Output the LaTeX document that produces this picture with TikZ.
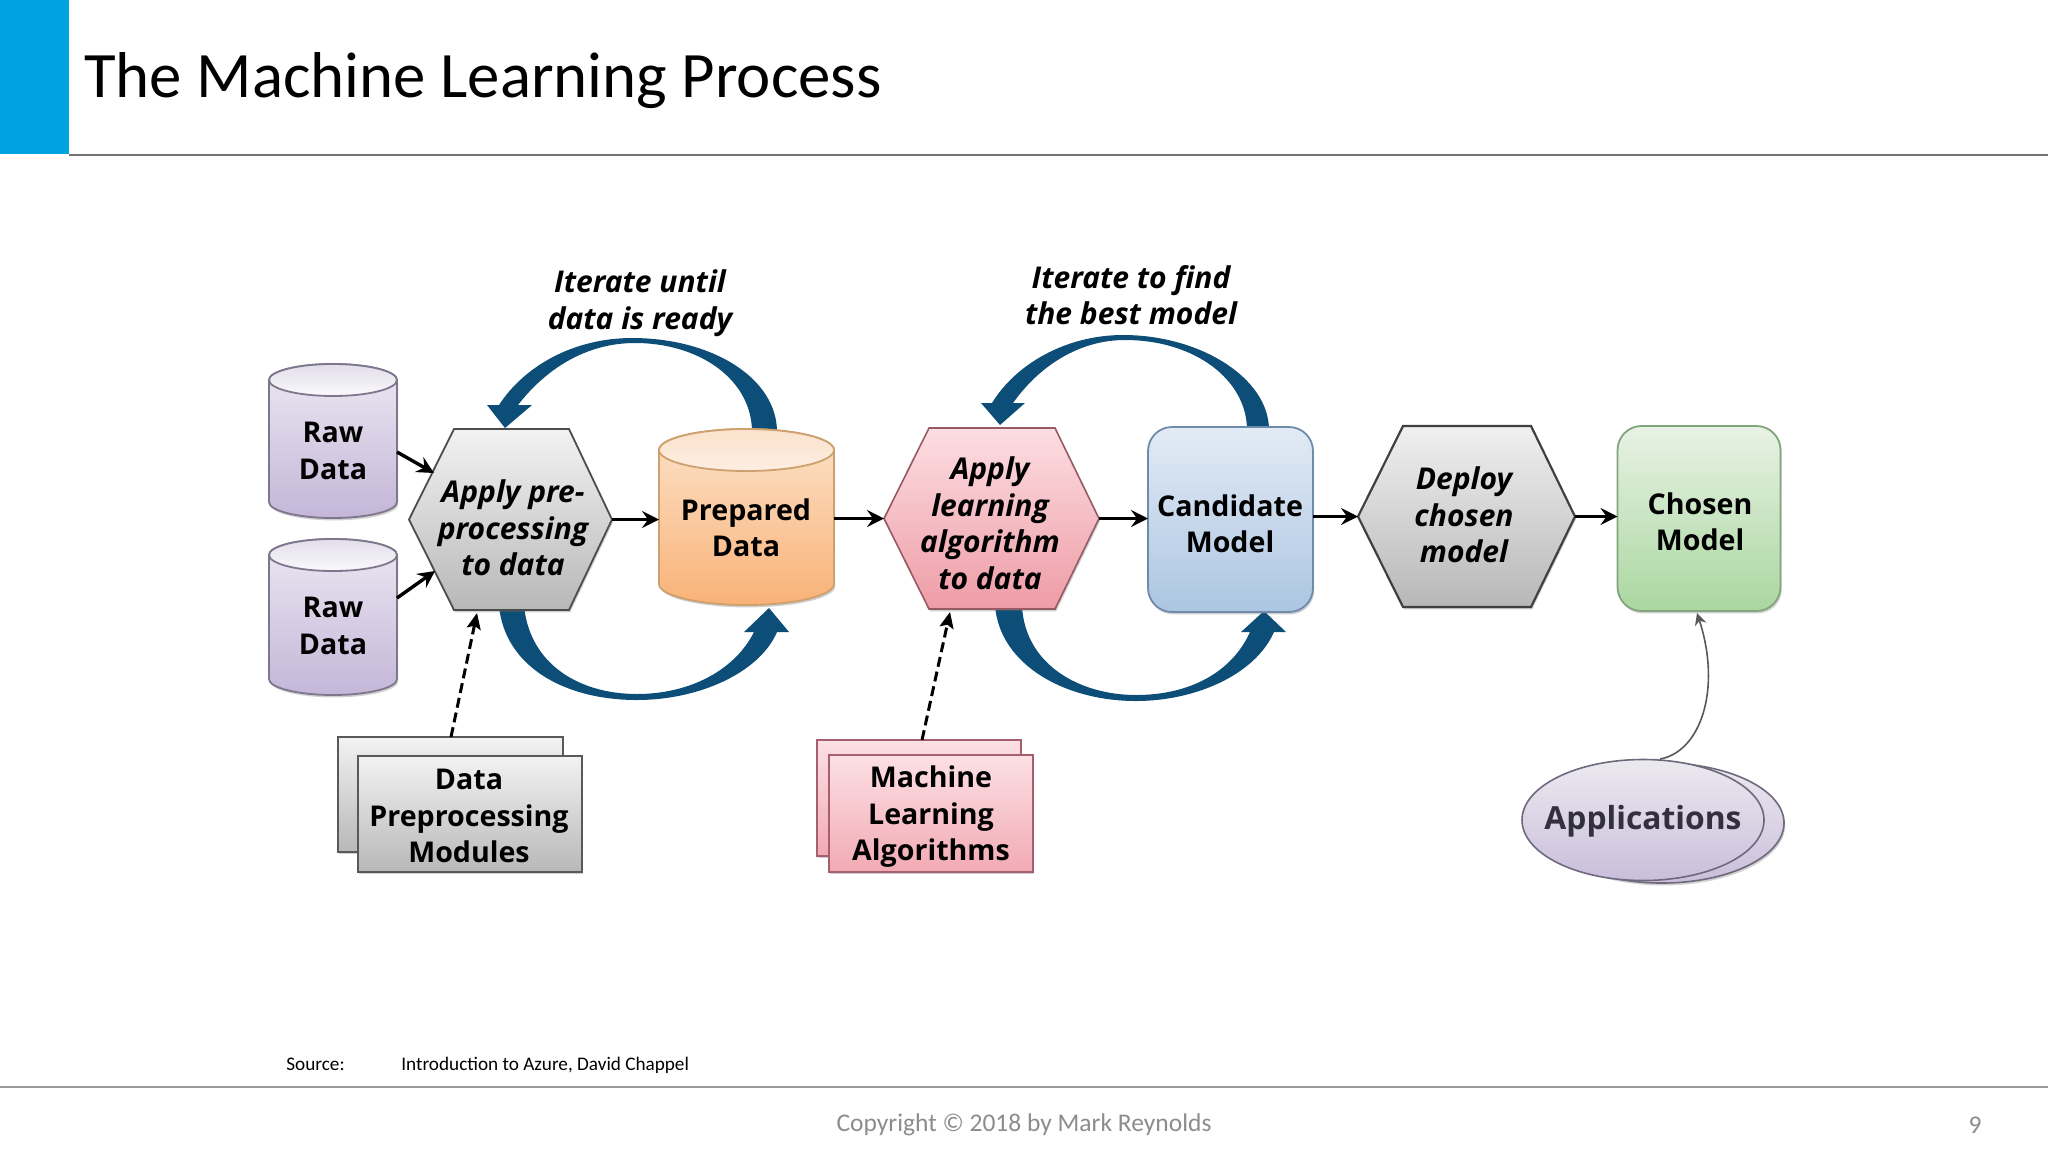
\documentclass[tikz,border=0pt]{standalone}
\usepackage{fontspec}
\setmainfont{Carlito}
\newfontfamily\diagfont{Open Sans}
\usetikzlibrary{arrows.meta,shapes.geometric,shadows}
\definecolor{flowblue}{HTML}{0C4E78}
\definecolor{headblue}{HTML}{00A3E0}
\definecolor{footgray}{HTML}{8C8C8C}
\tikzset{
  softshadow/.style={drop shadow={shadow xshift=.6pt,shadow yshift=-1.2pt,opacity=.3,fill=black!60}},
  anchorbox/.style={inner sep=0pt,outer sep=0pt},
  lbl/.style={font=\diagfont\bfseries\fontsize{14.3}{18.25}\selectfont,align=center,inner sep=0pt,text=black},
  lbli/.style={lbl,font=\diagfont\bfseries\itshape\fontsize{15}{18.25}\selectfont},
  arrowline/.style={line width=1.7pt,draw=black,-{Stealth[length=8.5pt,width=8.5pt,inset=3pt]}},
  dashline/.style={line width=1.5pt,draw=black,dash pattern=on 5pt off 2.5pt,-{Stealth[length=8pt,width=7pt,inset=1.5pt]}},
  thinline/.style={line width=.8pt,draw=black!65,-{Stealth[length=6pt,width=6pt,inset=2pt]}},
  bigflow/.style={fill=flowblue,draw=none},
  hexgray/.style={top color=white!90!gray,bottom color=black!28,draw=black!70,line width=.9pt},
  hexdeploy/.style={top color=white!88!gray,bottom color=black!28,draw=black!75,line width=1.1pt},
  hexpink/.style={top color={rgb,255:red,252;green,222;blue,226},bottom color={rgb,255:red,238;green,156;blue,166},draw={rgb,255:red,150;green,90;blue,100},line width=.8pt},
  bodylilac/.style={top color={rgb,255:red,236;green,232;blue,242},bottom color={rgb,255:red,196;green,182;blue,216},draw={rgb,255:red,125;green,118;blue,140},line width=.9pt},
  caplilac/.style={top color={rgb,255:red,226;green,222;blue,234},bottom color={rgb,255:red,250;green,249;blue,252},draw={rgb,255:red,125;green,118;blue,140},line width=.9pt},
  bodyorange/.style={top color={rgb,255:red,252;green,226;blue,200},bottom color={rgb,255:red,249;green,178;blue,120},draw={rgb,255:red,205;green,160;blue,110},line width=.9pt},
  caporange/.style={top color={rgb,255:red,251;green,226;blue,204},bottom color={rgb,255:red,253;green,238;blue,226},draw={rgb,255:red,205;green,160;blue,110},line width=.9pt},
  roundblue/.style={rectangle,rounded corners=12pt,anchorbox,top color={rgb,255:red,226;green,235;blue,245},bottom color={rgb,255:red,172;green,197;blue,226},draw={rgb,255:red,110;green,140;blue,170},line width=.9pt,softshadow},
  roundgreen/.style={rectangle,rounded corners=12pt,anchorbox,top color={rgb,255:red,232;green,242;blue,228},bottom color={rgb,255:red,170;green,215;blue,160},draw={rgb,255:red,130;green,165;blue,125},line width=.9pt,softshadow},
  sheetgray/.style={rectangle,anchorbox,top color=white!90!gray,bottom color=black!28,draw=black!65,line width=.9pt,softshadow},
  sheetpink/.style={rectangle,anchorbox,top color={rgb,255:red,252;green,224;blue,228},bottom color={rgb,255:red,242;green,170;blue,180},draw={rgb,255:red,165;green,95;blue,110},line width=.9pt,softshadow},
  ovallilac/.style={ellipse,anchorbox,top color={rgb,255:red,236;green,234;blue,240},bottom color={rgb,255:red,202;green,190;blue,218},draw={rgb,255:red,110;green,105;blue,125},line width=.8pt},
}
% name, x0, x1, xa, xb, ytop, ybot, style
\newcommand{\hexshape}[8]{%
  \pgfmathsetmacro{\hxm}{(#2+#3)/2}\pgfmathsetmacro{\hym}{(#6+#7)/2}%
  \pgfmathsetmacro{\hxw}{(#3-#2)/2}\pgfmathsetmacro{\hxh}{(#7-#6)/2}%
  \path[softshadow,#8] (#2,\hym) -- (#4,#6) -- (#5,#6) -- (#3,\hym) -- (#5,#7) -- (#4,#7) -- cycle;
  \node[anchorbox,minimum width=\hxw pt,minimum height=\hxh pt] (#1) at (\hxm,\hym) {};
}
% name, x0, x1, ytop, ybot, ry, body, cap
\newcommand{\cylshape}[8]{%
  \pgfmathsetmacro{\cxm}{(#2+#3)/2}\pgfmathsetmacro{\cym}{(#4+#5)/2}%
  \pgfmathsetmacro{\cxw}{(#3-#2)/2}\pgfmathsetmacro{\cxh}{(#5-#4)/2}%
  \pgfmathsetmacro{\crx}{(#3-#2)/2*0.55}%
  \pgfmathsetmacro{\cta}{#4+#6}\pgfmathsetmacro{\ctb}{#4+#6*0.45}\pgfmathsetmacro{\ctc}{#4+#6*1.55}\pgfmathsetmacro{\ctd}{#4+#6*2}%
  \pgfmathsetmacro{\cba}{#5-#6}\pgfmathsetmacro{\cbb}{#5-#6*0.45}%
  \path[softshadow,#7] (#2,\cta) -- (#2,\cba) .. controls (#2,\cbb) and (\cxm-\crx,#5) .. (\cxm,#5) .. controls (\cxm+\crx,#5) and (#3,\cbb) .. (#3,\cba) -- (#3,\cta) .. controls (#3,\ctb) and (\cxm+\crx,#4) .. (\cxm,#4) .. controls (\cxm-\crx,#4) and (#2,\ctb) .. (#2,\cta) -- cycle;
  \path[#8] (#2,\cta) .. controls (#2,\ctc) and (\cxm-\crx,\ctd) .. (\cxm,\ctd) .. controls (\cxm+\crx,\ctd) and (#3,\ctc) .. (#3,\cta) .. controls (#3,\ctb) and (\cxm+\crx,#4) .. (\cxm,#4) .. controls (\cxm-\crx,#4) and (#2,\ctb) .. (#2,\cta) -- cycle;
  \node[anchorbox,minimum width=\cxw pt,minimum height=\cxh pt] (#1) at (\cxm,\cym) {};
}
\begin{document}
\begin{tikzpicture}[x=0.5pt,y=-0.5pt]
\useasboundingbox (0,0) rectangle (2048,1152);
\fill[white] (0,0) rectangle (2048,1152);
% header and footer
\fill[headblue] (0,0) rectangle (69,154);
\draw[black!55,line width=.6pt] (69,155) -- (2048,155);
\draw[black!40,line width=.6pt] (0,1087) -- (2048,1087);
\node[anchor=base west,inner sep=0pt,font=\fontsize{32.4}{38}\selectfont] (title) at (84,97) {The Machine Learning Process};
\node[anchor=base west,inner sep=0pt,font=\fontsize{9.6}{11}\selectfont] (srckey) at (286,1070) {Source:};
\node[anchor=base west,inner sep=0pt,font=\fontsize{9.6}{11}\selectfont] (srcval) at (401,1070) {Introduction to Azure, David Chappel};
\node[inner sep=0pt,text=footgray,font=\fontsize{12.75}{15}\selectfont] (copy) at (1024,1125) {Copyright © 2018 by Mark Reynolds};
\node[inner sep=0pt,text=footgray,font=\fontsize{12.75}{15}\selectfont] (pageno) at (1975,1125) {9};
% big flow arrows (behind the shapes)
\path[bigflow] (777,432) .. controls (777,378) and (712,338) .. (632,338) .. controls (575,338) and (525,365) .. (499,405) -- (487,405) -- (505,428) -- (532,405) -- (518,405) .. controls (545,370) and (585,343) .. (635,343) .. controls (700,343) and (752,380) .. (752,432) -- cycle;
\path[bigflow] (499,606) .. controls (505,667) and (565,700) .. (637,700) .. controls (700,700) and (760,672) .. (777,632) -- (789,632) -- (769,608) -- (744,632) -- (754,632) .. controls (735,670) and (690,694) .. (637,694) .. controls (580,694) and (530,665) .. (524,606) -- cycle;
\path[bigflow] (1269,430) .. controls (1269,378) and (1200,335) .. (1123,335) .. controls (1065,335) and (1015,365) .. (992,403) -- (981,403) -- (1000,425) -- (1025,403) -- (1013,403) .. controls (1040,365) and (1080,340) .. (1125,340) .. controls (1195,340) and (1247,380) .. (1247,430) -- cycle;
\path[bigflow] (995,606) .. controls (1000,665) and (1065,701) .. (1136,701) .. controls (1195,701) and (1255,675) .. (1274,632) -- (1286,632) -- (1264,611) -- (1241,632) -- (1250,632) .. controls (1232,672) and (1190,695) .. (1136,695) .. controls (1080,695) and (1025,665) .. (1022,606) -- cycle;
% shapes
\cylshape{rawa}{269}{397}{364}{518}{16}{bodylilac}{caplilac}
\cylshape{rawb}{269}{397}{539}{695}{16}{bodylilac}{caplilac}
\hexshape{hexa}{409}{612}{454}{569}{429}{610}{hexgray}
\cylshape{prep}{659}{834}{429}{605}{21}{bodyorange}{caporange}
\hexshape{hexb}{884}{1099}{929}{1055}{428}{609}{hexpink}
\node[roundblue,minimum width=82.5pt,minimum height=92.5pt] (cand) at (1230.5,519.5) {};
\hexshape{hexc}{1358}{1575}{1403}{1531}{426}{607}{hexdeploy}
\node[roundgreen,minimum width=81.5pt,minimum height=92.5pt] (chosen) at (1699,518.5) {};
\node[sheetgray,minimum width=112.5pt,minimum height=57.5pt] (dpback) at (450.5,794.5) {};
\node[sheetgray,minimum width=112pt,minimum height=58pt] (dpfront) at (470,814) {};
\node[sheetpink,minimum width=102pt,minimum height=58pt] (mlback) at (919,798) {};
\node[sheetpink,minimum width=102pt,minimum height=58.5pt] (mlfront) at (931,813.5) {};
\node[ovallilac,minimum width=122pt,minimum height=60pt,softshadow] (appback) at (1662,823) {};
\node[ovallilac,minimum width=121pt,minimum height=60.5pt] (appfront) at (1643,820) {};
% labels
\node[lbl] (trawa) at (333,451) {Raw\\Data};
\node[lbl] (trawb) at (333,626) {Raw\\Data};
\node[lbli] (thexa) at (513,528) {Apply pre-\\processing\\to data};
\node[lbl] (tprep) at (746,528) {Prepared\\Data};
\node[lbli] (thexb) at (990,523) {Apply\\learning\\algorithm\\to data};
\node[lbl] (tcand) at (1230,524) {Candidate\\Model};
\node[lbli] (thexc) at (1464,515) {Deploy\\chosen\\model};
\node[lbl] (tchosen) at (1700,522) {Chosen\\Model};
\node[lbl] (tdp) at (469,816) {Data\\Preprocessing\\Modules};
\node[lbl] (tml) at (931,817) {Machine\\Learning\\Algorithms};
\node[lbl,text={rgb,255:red,50;green,48;blue,62},font=\diagfont\bfseries\fontsize{15.9}{19}\selectfont] (tapp) at (1643,821) {Applications};
\node[lbli] (titera) at (640,303) {Iterate until\\data is ready};
\node[lbli] (titerb) at (1131,295) {Iterate to find\\the best model};
% connector end points on slanted sides
\coordinate (rawaout) at (397,452);
\coordinate (hexain) at (434,473);
\coordinate (rawbout) at (397,598);
\coordinate (hexainb) at (435,571);
\coordinate (hexadash) at (477,613);
\coordinate (hexbdash) at (950,612);
\coordinate (dpout) at (451,737);
\coordinate (mlout) at (922,740);
\coordinate (appout) at (1660,759);
\coordinate (chosenin) at (1697,613);
% connectors
\draw[arrowline] (rawaout) -- (hexain);
\draw[arrowline] (rawbout) -- (hexainb);
\draw[arrowline] (hexa.east) -- (hexa.east -| prep.west);
\draw[arrowline] (prep.east |- hexb.west) -- (hexb.west);
\draw[arrowline] (hexb.east) -- (hexb.east -| cand.west);
\draw[arrowline] (cand.east |- hexc.west) -- (hexc.west);
\draw[arrowline] (hexc.east) -- (hexc.east -| chosen.west);
\draw[dashline] (dpout) -- (hexadash);
\draw[dashline] (mlout) -- (hexbdash);
\draw[thinline] (appout) .. controls (1700,752) and (1722,690) .. (chosenin);
\end{tikzpicture}
\end{document}
